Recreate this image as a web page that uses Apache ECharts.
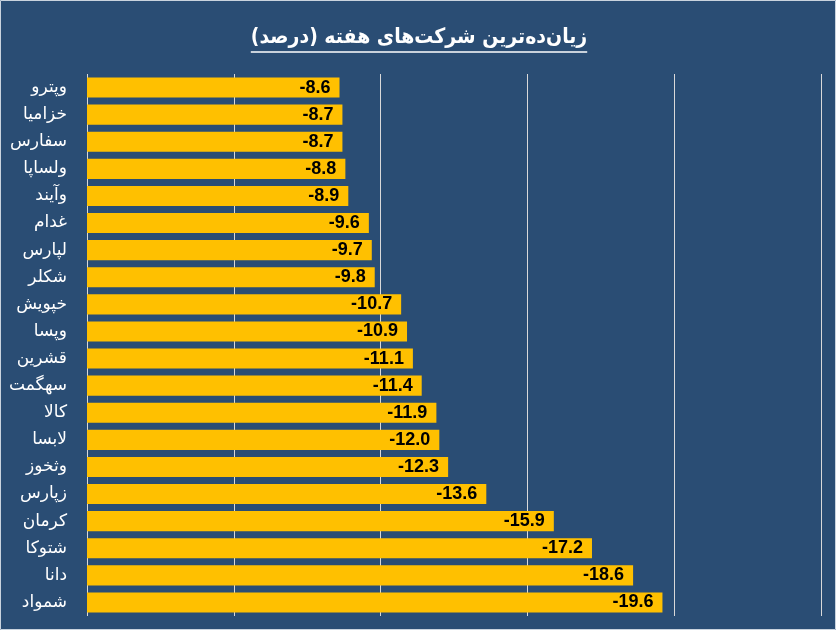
<!DOCTYPE html>
<html>
<head>
<meta charset="utf-8">
<script src="https://cdn.jsdelivr.net/npm/echarts@6/dist/echarts.min.js"></script>
<style>
html,body{margin:0;padding:0;background:#2a4d74;}
#chart{width:836px;height:630px;}
</style>
</head>
<body>
<div id="chart"></div>
<script>
const titleText = 'زیان‌ده‌ترین شرکت‌های هفته (درصد)';
const categories = ['وپترو','خزامیا','سفارس','ولساپا','وآیند','غدام','لپارس','شکلر','خپویش','وپسا','قشرین','سهگمت','کالا','لابسا','وثخوز','زپارس','کرمان','شتوکا','دانا','شمواد'];
const values = [-8.6,-8.7,-8.7,-8.8,-8.9,-9.6,-9.7,-9.8,-10.7,-10.9,-11.1,-11.4,-11.9,-12.0,-12.3,-13.6,-15.9,-17.2,-18.6,-19.6];
const axisMin = -25, axisMax = 0, axisStep = 5;

const titleFont = 'bold 21px "DejaVu Sans Condensed", "DejaVu Sans"';
const ctx = document.createElement('canvas').getContext('2d');
ctx.font = titleFont;
const tw = ctx.measureText(titleText).width;
const cx = 419;

const chart = echarts.init(document.getElementById('chart'));
chart.setOption({
  backgroundColor: '#2a4d74',
  animation: false,
  graphic: [
    { type: 'rect', shape: { x: 0.5, y: 0.5, width: 835, height: 629 }, style: { fill: 'none', stroke: '#c9d3de', lineWidth: 1 }, silent: true },
    { type: 'text', x: cx, y: 38, style: { text: titleText, font: titleFont, fill: '#ffffff', align: 'center', verticalAlign: 'middle' }, silent: true },
    { type: 'line', shape: { x1: cx - tw / 2, y1: 52, x2: cx + tw / 2, y2: 52 }, style: { stroke: '#ffffff', lineWidth: 1.5 }, silent: true }
  ],
  grid: { left: 87, right: 15, top: 74, bottom: 14, containLabel: false },
  xAxis: {
    type: 'value',
    min: axisMin, max: axisMax, interval: axisStep,
    inverse: true,
    axisLabel: { show: false },
    axisLine: { show: false },
    axisTick: { show: false },
    splitLine: { show: true, lineStyle: { color: '#d9d9d9', width: 1 } }
  },
  yAxis: {
    type: 'category',
    data: categories,
    inverse: true,
    axisLine: { show: false },
    axisTick: { show: false },
    axisLabel: { color: '#ffffff', fontSize: 17, margin: 20, fontFamily: 'DejaVu Sans' }
  },
  series: [{
    type: 'bar',
    data: values,
    barCategoryGap: '26%',
    itemStyle: { color: '#ffc000' },
    label: {
      show: true,
      position: 'insideRight',
      distance: 9,
      color: '#000000',
      fontSize: 18,
      fontWeight: 'bold',
      fontFamily: 'Liberation Sans, Arial',
      formatter: p => '\u200E' + p.value.toFixed(1)
    }
  }]
});
</script>
</body>
</html>
